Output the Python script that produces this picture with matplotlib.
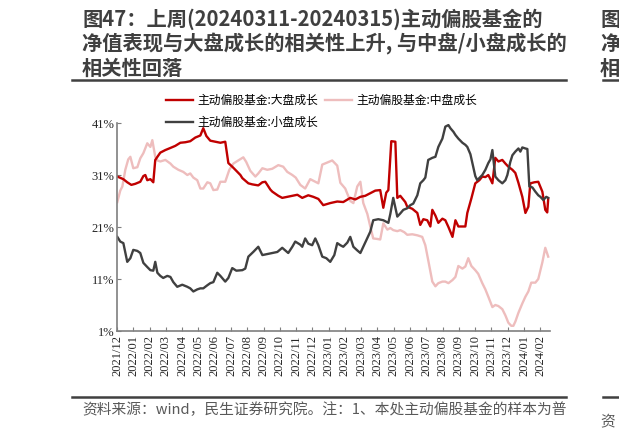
import matplotlib
matplotlib.use("Agg")
import matplotlib.pyplot as plt
from matplotlib.lines import Line2D

plt.rcParams['font.family'] = ['Noto Sans CJK SC', 'DejaVu Sans']

# x: months since 2021/12, y: correlation in %
month_labels = ['2021/12', '2022/01', '2022/02', '2022/03', '2022/04', '2022/05', '2022/06',
                '2022/07', '2022/08', '2022/09', '2022/10', '2022/11', '2022/12', '2023/01',
                '2023/02', '2023/03', '2023/04', '2023/05', '2023/06', '2023/07', '2023/08',
                '2023/09', '2023/10', '2023/11', '2023/12', '2024/01', '2024/02']

big_m = [0.02, 0.39, 0.63, 0.88, 1.12, 1.43, 1.62, 1.74, 1.86, 2.05, 2.23, 2.35, 2.66, 2.97, 3.28,
         3.58, 3.89, 4.20, 4.50, 4.81, 5.12, 5.30, 5.49, 5.73, 6.04, 6.35, 6.65, 6.84, 7.08, 7.27,
         7.58, 7.70, 8.07, 8.31, 8.68, 8.93, 9.11, 9.42, 9.54, 9.91, 10.15, 10.46, 10.77, 11.08,
         11.38, 11.75, 12.06, 12.37, 12.67, 13.10, 13.53, 13.90, 14.33, 14.64, 14.95, 15.25, 15.56,
         15.87, 16.17, 16.36, 16.54, 16.67, 16.85, 17.10, 17.22, 17.40, 17.71, 17.83, 18.14, 18.45,
         18.63, 18.82, 19.06, 19.25, 19.37, 19.56, 19.74, 19.99, 20.17, 20.36, 20.61, 20.79, 20.97,
         21.22, 21.40, 21.52, 21.77, 22.01, 22.26, 22.44, 22.63, 22.81, 22.94, 23.06, 23.24, 23.43,
         23.67, 23.86, 24.04, 24.29, 24.47, 24.66, 24.90, 25.09, 25.27, 25.39, 25.64, 25.88, 26.13,
         26.31, 26.43, 26.49]
big_v = [30.7, 30.2, 29.6, 29.1, 29.3, 29.7, 30.8, 31.0, 30.0, 30.2, 29.6, 33.9, 35.3, 35.8, 36.2,
         36.6, 37.2, 37.3, 37.5, 38.2, 38.6, 40.0, 38.5, 37.6, 37.4, 37.2, 37.4, 33.3, 32.6, 32.0,
         31.0, 30.4, 29.4, 29.2, 29.0, 29.6, 29.7, 28.2, 27.8, 27.0, 26.6, 26.8, 27.0, 27.2,
         26.6, 27.1, 26.8, 26.4, 25.2, 25.6, 25.9, 25.8, 26.6, 26.3, 26.8, 27.0, 27.5,
         28.0, 28.1, 24.7, 27.6, 28.1, 37.5, 37.4, 26.6, 27.0, 25.8, 24.9, 24.5, 23.7,
         21.4, 22.5, 22.3, 21.1, 24.3, 23.2, 21.8, 22.6, 22.3, 21.0, 19.1, 22.3, 21.1,
         21.1, 21.1, 23.7, 26.5, 29.4, 30.0, 30.7, 30.6, 31.0, 30.2, 29.4, 34.3, 33.6,
         33.9, 33.2, 32.6, 32.0, 31.4, 29.5, 26.8, 23.7, 24.9, 29.4, 29.6, 29.7, 27.8,
         24.3, 23.8, 26.4]

mid_m = [0.02, 0.20, 0.33, 0.51, 0.69, 0.82, 1.00, 1.25, 1.43, 1.62, 1.86, 2.05, 2.17, 2.35, 2.48,
         2.66, 2.97, 3.28, 3.46, 3.77, 4.07, 4.32, 4.50, 4.69, 4.93, 5.12, 5.30, 5.55, 5.73, 5.92,
         6.16, 6.35, 6.65, 6.90, 7.15, 7.45, 7.76, 7.94, 8.19, 8.50, 8.68, 8.93, 9.23, 9.54, 9.91,
         10.21, 10.46, 10.77, 10.98, 11.26, 11.56, 11.87, 12.12, 12.37, 12.61, 12.92, 13.22, 13.53,
         13.72, 14.02, 14.33, 14.52, 14.76, 14.95, 15.13, 15.38, 15.56, 15.74, 15.99, 16.17, 16.36,
         16.61, 16.79, 16.97, 17.22, 17.40, 17.65, 17.83, 18.14, 18.45, 18.75, 18.94, 19.12, 19.37,
         19.56, 19.74, 19.99, 20.17, 20.36, 20.61, 20.79, 20.97, 21.22, 21.40, 21.58, 21.77, 22.01,
         22.19, 22.44, 22.63, 22.81, 23.06, 23.24, 23.43, 23.67, 23.86, 24.04, 24.22, 24.35, 24.47,
         24.66, 24.90, 25.09, 25.27, 25.45, 25.70, 25.88, 26.13, 26.31, 26.49]
mid_v = [25.8, 28.0, 28.8, 32.0, 34.0, 34.5, 32.3, 32.5, 34.2, 35.2, 37.1, 36.4, 37.7, 34.5, 33.8,
         33.6, 33.9, 33.2, 32.6, 32.0, 31.6, 31.0, 31.3, 30.5, 30.0, 28.4, 28.4, 29.6, 29.4, 28.1,
         28.2, 29.7, 29.7, 32.0, 33.2, 33.8, 34.4, 33.5, 31.8, 30.7, 31.3, 32.3, 32.0, 32.2, 32.9,
         32.6, 31.6, 31.0, 30.5, 29.1, 28.4, 30.2, 29.8, 29.4, 33.0, 33.4, 33.8, 32.8,
         29.5, 28.4, 26.0, 25.6, 28.8, 29.7, 25.6, 23.5, 21.1, 18.8, 18.7, 18.6, 21.7,
         20.5, 20.8, 20.4, 20.2, 20.4, 20.0, 19.5, 19.6, 19.4, 19.1, 17.5, 14.6, 10.5,
         9.6, 10.2, 10.5, 10.5, 10.2, 10.8, 11.4, 13.5, 13.0, 13.4, 15.0, 13.5, 12.7,
         12.0, 10.2, 9.0, 7.6, 5.6, 6.0, 5.8, 5.2, 4.0, 2.6, 2.0, 2.0, 2.8,
         4.5, 6.3, 7.6, 8.6, 10.3, 10.3, 11.0, 14.2, 17.0, 15.3]

small_m = [0.02, 0.20, 0.39, 0.63, 0.82, 1.00, 1.25, 1.43, 1.62, 1.86, 2.05, 2.23, 2.35, 2.48, 2.66,
           2.84, 3.09, 3.28, 3.46, 3.70, 4.01, 4.32, 4.50, 4.69, 4.93, 5.12, 5.30, 5.55, 5.73, 5.92,
           6.16, 6.35, 6.65, 6.84, 7.08, 7.33, 7.70, 7.88, 8.07, 8.37, 8.68, 8.93, 9.23, 9.54, 9.85,
           10.15, 10.52, 10.77, 10.95, 11.26, 11.38, 11.56, 11.75, 11.99, 12.18, 12.37, 12.61, 12.86,
           13.10, 13.35, 13.53, 13.72, 13.90, 14.15, 14.33, 14.52, 14.76, 14.95, 15.25, 15.56, 15.74,
           16.05, 16.36, 16.67, 16.79, 16.97, 17.22, 17.40, 17.59, 17.83, 18.02, 18.20, 18.45, 18.63,
           18.82, 18.94, 19.12, 19.37, 19.56, 19.74, 19.99, 20.17, 20.36, 20.48, 20.67, 20.79, 20.97,
           21.22, 21.40, 21.52, 21.71, 21.83, 22.01, 22.13, 22.32, 22.44, 22.63, 22.81, 22.94, 23.06,
           23.24, 23.43, 23.67, 23.86, 23.98, 24.16, 24.29, 24.47, 24.66, 24.78, 24.90, 25.09, 25.21,
           25.33, 25.52, 25.70, 25.88, 26.01, 26.19, 26.37, 26.49]
small_v = [19.1, 18.2, 17.9, 14.3, 15.0, 16.6, 16.4, 16.0, 14.1, 13.3, 12.7, 12.6, 14.3, 12.2, 11.6,
           11.2, 11.6, 11.4, 10.4, 9.5, 9.9, 9.5, 9.2, 8.6, 9.0, 9.2, 9.2, 9.8, 10.2, 10.4,
           12.2, 11.6, 10.5, 11.2, 13.1, 12.6, 12.7, 13.0, 15.3, 16.2, 17.2, 15.6, 15.8, 16.0, 16.2,
           17.0, 16.0, 17.2, 18.2, 17.6, 17.2, 18.8, 17.8, 17.5, 18.8, 17.5, 15.3, 15.0,
           14.3, 15.6, 17.9, 17.5, 17.2, 18.0, 19.1, 17.2, 16.5, 16.0, 18.0, 20.1, 22.3,
           22.5, 22.3, 21.8, 23.5, 26.6, 23.0, 23.6, 24.3, 24.6, 25.2, 25.5, 27.1, 29.4,
           30.0, 30.5, 33.9, 34.3, 34.5, 36.4, 38.0, 40.3, 40.6, 40.0, 39.3, 38.7, 38.0,
           37.2, 36.8, 36.4, 35.0, 33.3, 30.8, 30.0, 30.6, 31.0, 32.0, 33.3, 34.0, 35.8,
           30.7, 30.0, 29.4, 30.0, 31.0, 33.5, 34.8, 35.5, 36.1, 35.5, 36.3, 36.1, 36.0,
           28.8, 28.6, 27.8, 27.1, 26.8, 26.2, 26.8, 26.6]

title_lines = ['图47：上周(20240311-20240315)主动偏股基金的',
               '净值表现与大盘成长的相关性上升, 与中盘/小盘成长的',
               '相关性回落']
source_text = '资料来源：wind，民生证券研究院。注：1、本处主动偏股基金的样本为普'

red = '#C00000'
pink = '#EEBDBD'
dark = '#404040'
txt = '#3F3F3F'

fig = plt.figure(figsize=(6.19, 4.28), dpi=100)

# title block
for i, line in enumerate(title_lines):
    fig.text(82 / 619, 1 - (19 + 24.5 * i) / 428, line, fontsize=14.6, fontweight='bold',
             color=txt, va='center', ha='left')
fig.add_artist(Line2D([72 / 619, 566 / 619], [1 - 80 / 428] * 2, color='#404040', lw=1.8))
fig.add_artist(Line2D([72 / 619, 566 / 619], [1 - 397 / 428] * 2, color='#404040', lw=1.8))
fig.text(82 / 619, 1 - 410 / 428, source_text, fontsize=10.6, color='#595959', va='center')

# neighbouring panel, cut off at the right edge
for i, ch in enumerate(['图', '净', '相']):
    fig.text(600 / 619, 1 - (19 + 24.5 * i) / 428, ch, fontsize=14.6, fontweight='bold',
             color=txt, va='center', ha='left')
fig.add_artist(Line2D([603 / 619, 1.0], [1 - 80 / 428] * 2, color='#404040', lw=1.8))
fig.add_artist(Line2D([603 / 619, 1.0], [1 - 397 / 428] * 2, color='#404040', lw=1.8))
fig.text(600 / 619, 1 - 421 / 428, '资', fontsize=10.6, color='#595959', va='center')

ax = fig.add_axes([117 / 619, 1 - 331 / 428, (550 - 117) / 619, (331 - 123) / 428])
l2, = ax.plot(mid_m, mid_v, color=pink, lw=1.7, label='主动偏股基金:中盘成长')
l1, = ax.plot(big_m, big_v, color=red, lw=1.7, label='主动偏股基金:大盘成长')
l3, = ax.plot(small_m, small_v, color=dark, lw=1.7, label='主动偏股基金:小盘成长')

ax.set_xlim(0, 26.6)
ax.set_ylim(1, 41)
ax.set_yticks([1, 11, 21, 31, 41])
ax.set_yticklabels([f'{t}%' for t in [1, 11, 21, 31, 41]])
ax.set_xticks(range(len(month_labels)))
ax.set_xticklabels(month_labels, rotation=90)
for lab in ax.get_xticklabels() + ax.get_yticklabels():
    lab.set_fontfamily('Liberation Serif')
    lab.set_fontsize(9)
    lab.set_color('#262626')
ax.tick_params(axis='x', direction='in', length=3, pad=3, color='#7F7F7F')
ax.tick_params(axis='y', direction='in', length=3, pad=2, color='#7F7F7F')
for s in ['top', 'right']:
    ax.spines[s].set_visible(False)
for s in ['left', 'bottom']:
    ax.spines[s].set_color('#7F7F7F')
    ax.spines[s].set_linewidth(1.2)

fig.legend([l1, l3, l2], [l1.get_label(), l3.get_label(), l2.get_label()],
           ncol=2, loc='upper left', bbox_to_anchor=(166 / 619, 1 - 94 / 428),
           frameon=False, handlelength=2.3, handletextpad=0.4,
           columnspacing=0.5, labelspacing=0.75, borderpad=0, borderaxespad=0,
           prop={'size': 8.5, 'family': ['Noto Sans CJK SC', 'DejaVu Sans']})

fig.savefig('out.png', dpi=100)
